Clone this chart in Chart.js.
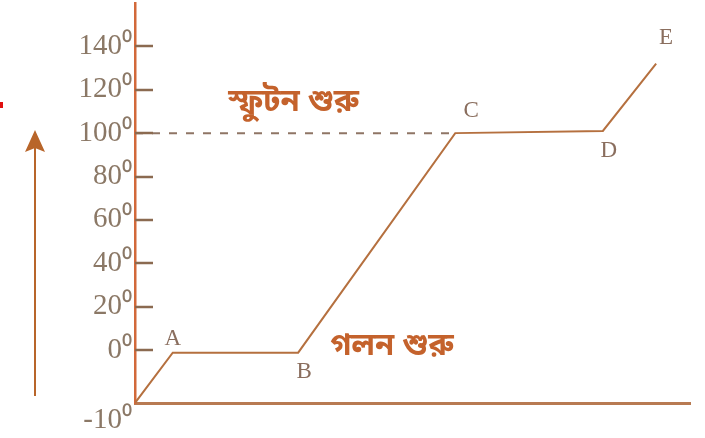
<!DOCTYPE html>
<html>
<head>
<meta charset="utf-8">
<script src="https://cdn.jsdelivr.net/npm/chart.js@4.4.0/dist/chart.umd.min.js"></script>
<style>
  html, body { margin: 0; padding: 0; background: #fff; }
  #wrap { width: 705px; height: 438px; }
</style>
</head>
<body>
<div id="wrap"><canvas id="heatChart"></canvas></div>
<script>
// heating curve: time (arbitrary units) vs temperature
const timeValues = [0, 6.8, 29.4, 57.7, 84.3, 93.9];
const tempValues = [-10, -0.5, -0.5, 100, 101, 132];
const pointNames = ['', 'A', 'B', 'C', 'D', 'E'];
const tickValues = [-10, 0, 20, 40, 60, 80, 100, 120, 140];
const boilTemp = 100;
const boilNote = 'স্ফুটন শুরু';
const meltNote = 'গলন শুরু';

// the drawing squeezes -10..0 into its own band, the rest is linear
const LOW_SHARE = 0.1325;
class HeatScale extends Chart.LinearScale {
    getPixelForValue(value) {
        let d;
        if (value < 0) d = (value - this.min) / (0 - this.min) * LOW_SHARE;
        else d = LOW_SHARE + value / this.max * (1 - LOW_SHARE);
        return this.getPixelForDecimal(d);
    }
    getValueForPixel(pixel) {
        const d = this.getDecimalForPixel(pixel);
        if (d < LOW_SHARE) return this.min + d / LOW_SHARE * (0 - this.min);
        return (d - LOW_SHARE) / (1 - LOW_SHARE) * this.max;
    }
}
HeatScale.id = 'heat';
HeatScale.defaults = Chart.LinearScale.defaults;
Chart.register(HeatScale);

const decorations = {
    id: 'decorations',
    afterDatasetsDraw(chart) {
        const ctx = chart.ctx;
        const x = chart.scales.x, y = chart.scales.y;
        const area = chart.chartArea;
        ctx.save();

        // short tick marks on the inner side of the axis
        ctx.strokeStyle = '#8b6a50';
        ctx.lineWidth = 2.5;
        tickValues.forEach(v => {
            if (v <= y.min) return;
            const py = Math.round(y.getPixelForValue(v));
            ctx.beginPath();
            ctx.moveTo(area.left, py);
            ctx.lineTo(area.left + 18, py);
            ctx.stroke();
        });

        // point letters
        const offsets = [null, [0, -14], [6, 19], [16, -22], [6, 20], [10, -26]];
        ctx.font = '23px "Liberation Serif", serif';
        ctx.fillStyle = '#8a6e5e';
        ctx.textAlign = 'center';
        ctx.textBaseline = 'middle';
        pointNames.forEach((n, i) => {
            if (!n) return;
            const px = x.getPixelForValue(timeValues[i]) + offsets[i][0];
            const py = y.getPixelForValue(tempValues[i]) + offsets[i][1];
            ctx.fillText(n, px, py);
        });

        // notes
        ctx.font = 'bold 31px "Noto Sans Bengali", "Noto Serif Bengali", "Noto Sans", sans-serif';
        ctx.fillStyle = '#c4622c';
        ctx.fillText(boilNote, x.getPixelForValue(28.6), y.getPixelForValue(113));
        ctx.fillText(meltNote, x.getPixelForValue(46.3), y.getPixelForValue(0.5));

        // upward arrow on the left
        ctx.strokeStyle = '#b8652a';
        ctx.fillStyle = '#b8652a';
        ctx.lineWidth = 2;
        ctx.beginPath();
        ctx.moveTo(35, 396);
        ctx.lineTo(35, 148);
        ctx.stroke();
        ctx.beginPath();
        ctx.moveTo(35, 130);
        ctx.lineTo(25, 152);
        ctx.lineTo(35, 148);
        ctx.lineTo(45, 152);
        ctx.closePath();
        ctx.fill();

        // small red mark at the left edge
        ctx.fillStyle = '#e01010';
        ctx.fillRect(0, 102, 3, 6);
        ctx.restore();
    }
};

const ctx = document.getElementById('heatChart').getContext('2d');
const heatChart = new Chart(ctx, {
    type: 'line',
    data: {
        datasets: [
            {
                label: 'curve',
                data: timeValues.map((t, i) => ({ x: t, y: tempValues[i] })),
                borderColor: '#b5703f',
                borderWidth: 2,
                pointRadius: 0,
                tension: 0,
                fill: false
            },
            {
                label: 'boil',
                data: [{ x: 0, y: boilTemp }, { x: timeValues[3], y: boilTemp }],
                borderColor: '#8f7565',
                borderWidth: 2,
                borderDash: [8, 9],
                pointRadius: 0,
                fill: false
            }
        ]
    },
    options: {
        responsive: true,
        maintainAspectRatio: false,
        animation: false,
        events: [],
        layout: {
            padding: { left: 0, top: 3, right: 15, bottom: 35 }
        },
        plugins: {
            legend: { display: false },
            tooltip: { enabled: false },
            title: { display: false }
        },
        scales: {
            x: {
                type: 'linear',
                min: 0,
                max: 100,
                grid: { display: false, drawTicks: false },
                border: { display: true, color: '#b87a52', width: 3 },
                ticks: { display: false }
            },
            y: {
                type: 'heat',
                min: -10,
                max: 160,
                grid: { display: false, drawTicks: false },
                border: { display: true, color: '#d2693a', width: 2.5 },
                afterBuildTicks: function(scale) {
                    scale.ticks = tickValues.map(v => ({ value: v }));
                },
                afterFit: function(scale) {
                    scale.width = 135;
                    scale.paddingTop = 0;
                    scale.paddingBottom = 0;
                },
                ticks: {
                    autoSkip: false,
                    padding: 3,
                    color: '#8b7866',
                    font: { family: '"Liberation Serif", serif', size: 29 },
                    callback: function(value) {
                        return value === -10 ? ['', '-10⁰'] : value + '⁰';
                    }
                }
            }
        }
    },
    plugins: [decorations]
});
</script>
</body>
</html>
